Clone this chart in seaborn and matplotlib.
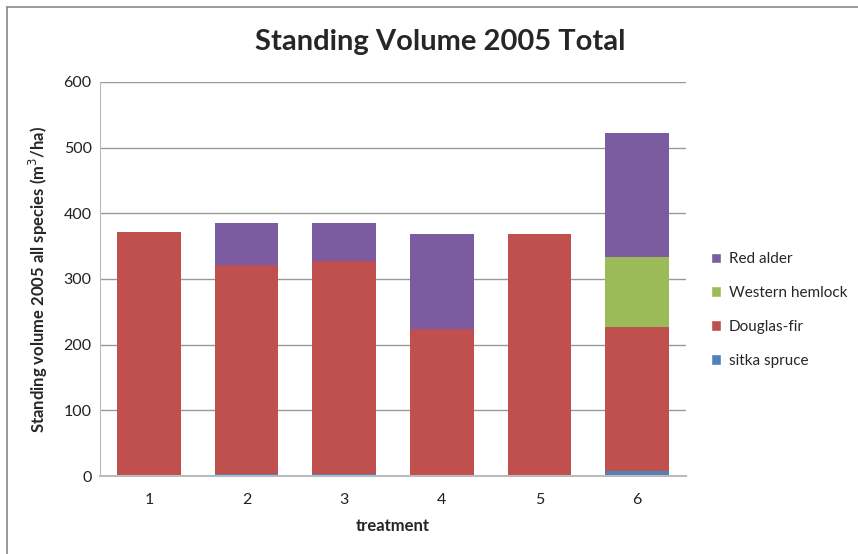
import seaborn as sns
import matplotlib.pyplot as plt
import pandas as pd
import numpy as np
from matplotlib.lines import Line2D
from matplotlib.patches import Patch

treatments = ["1", "2", "3", "4", "5", "6"]
sitka_spruce = [0, 3, 3, 0, 0, 8]
douglas_fir = [371, 319, 324, 224, 369, 219]
western_hemlock = [0, 0, 0, 0, 0, 106]
red_alder = [0, 63, 59, 144, 0, 189]

species = ["sitka spruce", "Douglas-fir", "Western hemlock", "Red alder"]
colors = ["#4F81BD", "#C0504D", "#9BBB59", "#7B5CA0"]

df = pd.DataFrame({"treatment": treatments, "sitka spruce": sitka_spruce,
                   "Douglas-fir": douglas_fir, "Western hemlock": western_hemlock,
                   "Red alder": red_alder})
cum = df[species].cumsum(axis=1)

sns.set_style("white")
plt.rcParams["font.family"] = ["Lato", "DejaVu Sans"]

fig = plt.figure(figsize=(8.58, 5.54), dpi=100)
ax = fig.add_axes([100/858, 1-476/554, 586/858, 394/554])

# draw cumulative totals from the top layer down so each stack shows through
for sp, c in zip(species[::-1], colors[::-1]):
    sns.barplot(x=df["treatment"], y=cum[sp], color=c, saturation=1, width=0.65,
                linewidth=0, ax=ax, zorder=2)

ax.set_ylim(0, 600)
ax.set_xlim(-0.5, 5.5)
ax.set_yticks(range(0, 601, 100))
ax.yaxis.grid(True, color="#999999", linewidth=1)
ax.set_axisbelow(True)
for s in ["top", "right"]:
    ax.spines[s].set_visible(False)
ax.spines["left"].set_color("#bbbbbb")
ax.spines["bottom"].set_color("#bbbbbb")
ax.spines["bottom"].set_linewidth(1.5)
ax.tick_params(axis="both", labelsize=11.5, colors="#222222", length=0, pad=6)
ax.tick_params(axis="x", pad=12)

ax.set_xlabel("treatment", fontsize=12, fontweight="bold", labelpad=8)
ax.set_ylabel("Standing volume 2005 all species (m$^3$/ha)", fontsize=12,
              fontweight="bold", labelpad=10)
fig.text(440/858, 1-42/554, "Standing Volume 2005 Total", fontsize=21,
         fontweight="bold", ha="center", va="center")

handles = [Patch(facecolor=c, label=s) for s, c in zip(species[::-1], colors[::-1])]
fig.legend(handles=handles, loc="center left", bbox_to_anchor=(697/858, 1-310/554),
           frameon=False, fontsize=11, handlelength=0.7, handleheight=0.7,
           handletextpad=0.5, labelspacing=1.3)

fig.add_artist(Line2D([7/858, 7/858], [0, 1-7/554], color="#888888", lw=1.2))
fig.add_artist(Line2D([7/858, 1], [1-7/554, 1-7/554], color="#888888", lw=1.2))

fig.savefig("out.png", dpi=100)
